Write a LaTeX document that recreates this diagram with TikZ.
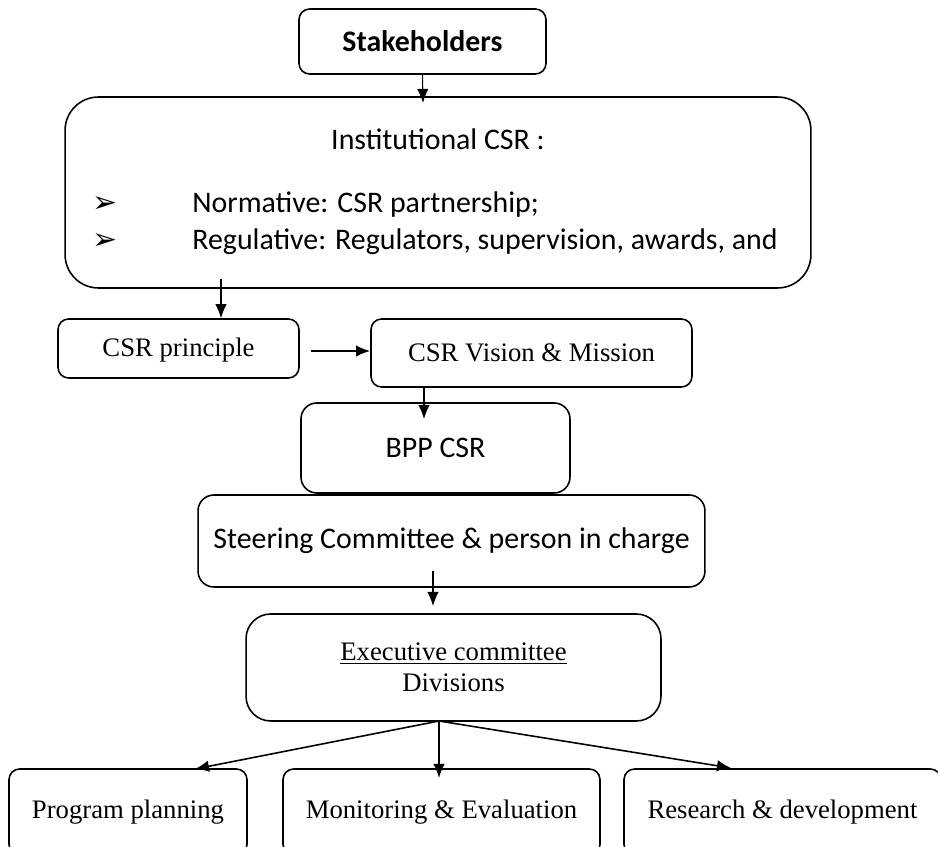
\documentclass[tikz,border=0pt]{standalone}
\usepackage{fontspec}
\setmainfont{Liberation Serif}
\newfontfamily\calfont{Carlito}
\newfontfamily\symfont{DejaVu Sans}
\usepackage{tikz}
\usetikzlibrary{arrows.meta, positioning}
\tikzset{>={Latex[length=8pt,width=6.5pt]}}
\tikzset{
  box/.style={draw, line width=0.9pt, rounded corners=6pt, inner sep=0pt},
  sanstext/.style={font=\calfont\fontsize{17}{20}\selectfont},
  serftext/.style={font=\fontsize{15.2}{17.6}\selectfont},
  link/.style={->, line width=0.6pt}
}

\begin{document}
\begin{tikzpicture}[x=0.02cm, y=-0.02cm]
            \useasboundingbox (0,0) rectangle (938,847);

            \node[box, sanstext, minimum width=4.94cm, minimum height=1.3cm] (stake) at (422.5,41.5) {\bfseries Stakeholders};
            \node[box, rounded corners=19pt, minimum width=14.92cm, minimum height=3.82cm] (inst) at (438,192.5) {};
            \node[sanstext] (insttitle) at (438,139) {Institutional CSR :};
            \node[font=\symfont\fontsize{17}{20}\selectfont] (bulleta) at (105,205) {➢};
            \node[font=\symfont\fontsize{17}{20}\selectfont] (bulletb) at (105,242) {➢};
            \node[sanstext, anchor=west, inner sep=0pt] (normative) at (192,205) {Normative: CSR partnership;};
            \node[sanstext, anchor=west, inner sep=0pt] (regulative) at (192,242) {Regulative: Regulators, supervision, awards, and};

            \node[box, serftext, text height=10pt, text depth=1pt, minimum width=4.82cm, minimum height=1.18cm] (principle) at (178.5,348.5) {CSR principle};
            \node[box, serftext, minimum width=6.42cm, minimum height=1.36cm] (vision) at (531.5,353) {CSR Vision \& Mission};
            \node[box, sanstext, rounded corners=9pt, minimum width=5.38cm, minimum height=1.8cm] (bpp) at (435.5,448) {BPP CSR};
            \node[box, sanstext, rounded corners=9pt, minimum width=10.14cm, minimum height=1.84cm] (steer) at (451.5,541) {Steering Committee \& person in charge};
            \node[box, serftext, rounded corners=14pt, align=center, minimum width=8.3cm, minimum height=2.14cm] (exec) at (453.5,667.5) {\underline{Executive committee}\\Divisions};

            \node[box, serftext, minimum width=4.76cm, minimum height=1.72cm] (program) at (128,812) {Program planning};
            \node[box, serftext, minimum width=6.34cm, minimum height=1.72cm] (monitor) at (441.5,812) {Monitoring \& Evaluation};
            \node[box, serftext, minimum width=6.34cm, minimum height=1.72cm] (research) at (782.5,812) {Research \& development};

            \coordinate (instout) at (221,279);
            \coordinate (steerout) at (433,571);
            \coordinate (split) at (439,721);

            \draw[link] (stake.south) -- (423,103);
            \draw[link] (instout) -- (instout |- principle.north);
            \draw[->, line width=1.1pt] (311,351) -- (vision.west |- 0,351);
            \draw[link] (vision.south -| 424,0) -- (424,419);
            \draw[link] (steerout) -- (433,606);
            \draw[->, line width=0.9pt] (split) -- (195,769);
            \draw[->, line width=0.9pt] (split) -- (439,778);
            \draw[->, line width=0.9pt] (split) -- (731,768);
    \end{tikzpicture}
\end{document}
